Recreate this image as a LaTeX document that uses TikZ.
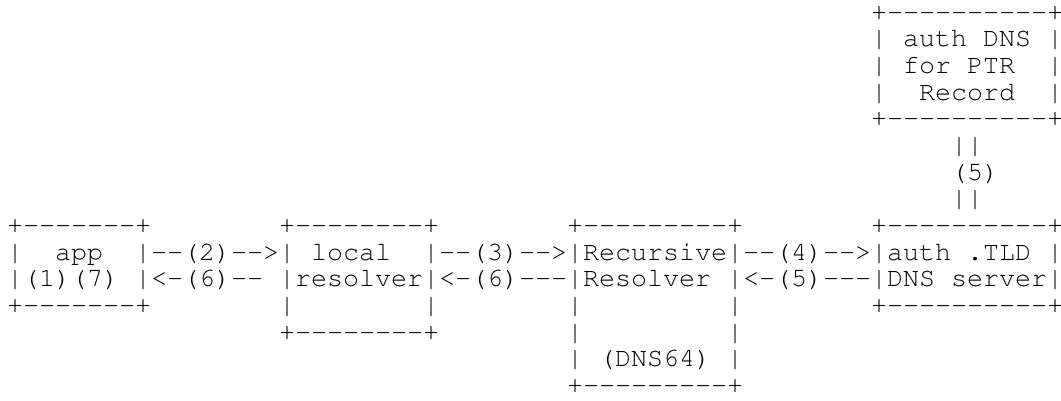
\documentclass[tikz,border=0pt]{standalone}
\usepackage[T1,TU]{fontenc}
\usepackage{tikz}

% Courier-style monospaced face: 16pt per character cell
\newcommand\artfont{\fontencoding{T1}\fontfamily{pcr}\fontseries{m}\fontshape{n}%
  \fontsize{26.667pt}{26.667pt}\selectfont}

\tikzset{
  art/.style={anchor=base west, inner sep=0pt, outer sep=0pt, font=\artfont, text=black},
}

% \artrow{name}{row}{column}{text}: one row of the character grid
\newcommand\artrow[4]{%
  \node[art] (#1) at ({7pt+16pt*#3},{-20pt-26.667pt*#2}) {#4};}

\begin{document}
\begin{tikzpicture}
  \useasboundingbox[fill=white] (0,0) rectangle (1061pt,-400pt);

  % authoritative DNS for the PTR record
  \artrow{ptrtop}{0}{54}{+-{}-{}-{}-{}-{}-{}-{}-{}-{}-+}
  \artrow{ptrone}{1}{54}{|~auth~DNS~|}
  \artrow{ptrtwo}{2}{54}{|~for~PTR~~|}
  \artrow{ptrthree}{3}{54}{|~~Record~~|}
  \artrow{ptrbottom}{4}{54}{+-{}-{}-{}-{}-{}-{}-{}-{}-{}-+}

  % link between the two authoritative servers
  \artrow{linkone}{5}{59}{||}
  \artrow{linklabel}{6}{59}{(5)}
  \artrow{linktwo}{7}{59}{||}

  % main chain: app, local resolver, recursive resolver, auth .TLD
  \artrow{rowtop}{8}{0}{+-{}-{}-{}-{}-{}-{}-+~~~~~~~~+-{}-{}-{}-{}-{}-{}-{}-+~~~~~~~~+-{}-{}-{}-{}-{}-{}-{}-{}-+~~~~~~~~+-{}-{}-{}-{}-{}-{}-{}-{}-{}-+}
  \artrow{rowone}{9}{0}{|~~app~~|-{}-(2)-{}->|~local~~|-{}-(3)-{}->|Recursive|-{}-(4)-{}->|auth~.TLD~|}
  \artrow{rowtwo}{10}{0}{|(1)(7)~|<-(6)-{}-~|resolver|<-(6)-{}-{}-|Resolver~|<-(5)-{}-{}-|DNS~server|}
  \artrow{rowthree}{11}{0}{+-{}-{}-{}-{}-{}-{}-+~~~~~~~~|~~~~~~~~|~~~~~~~~|~~~~~~~~~|~~~~~~~~+-{}-{}-{}-{}-{}-{}-{}-{}-{}-+}
  \artrow{rowfour}{12}{17}{+-{}-{}-{}-{}-{}-{}-{}-+~~~~~~~~|~~~~~~~~~|}
  \artrow{rowfive}{13}{35}{|~(DNS64)~|}
  \artrow{rowsix}{14}{35}{+-{}-{}-{}-{}-{}-{}-{}-{}-+}
\end{tikzpicture}
\end{document}
